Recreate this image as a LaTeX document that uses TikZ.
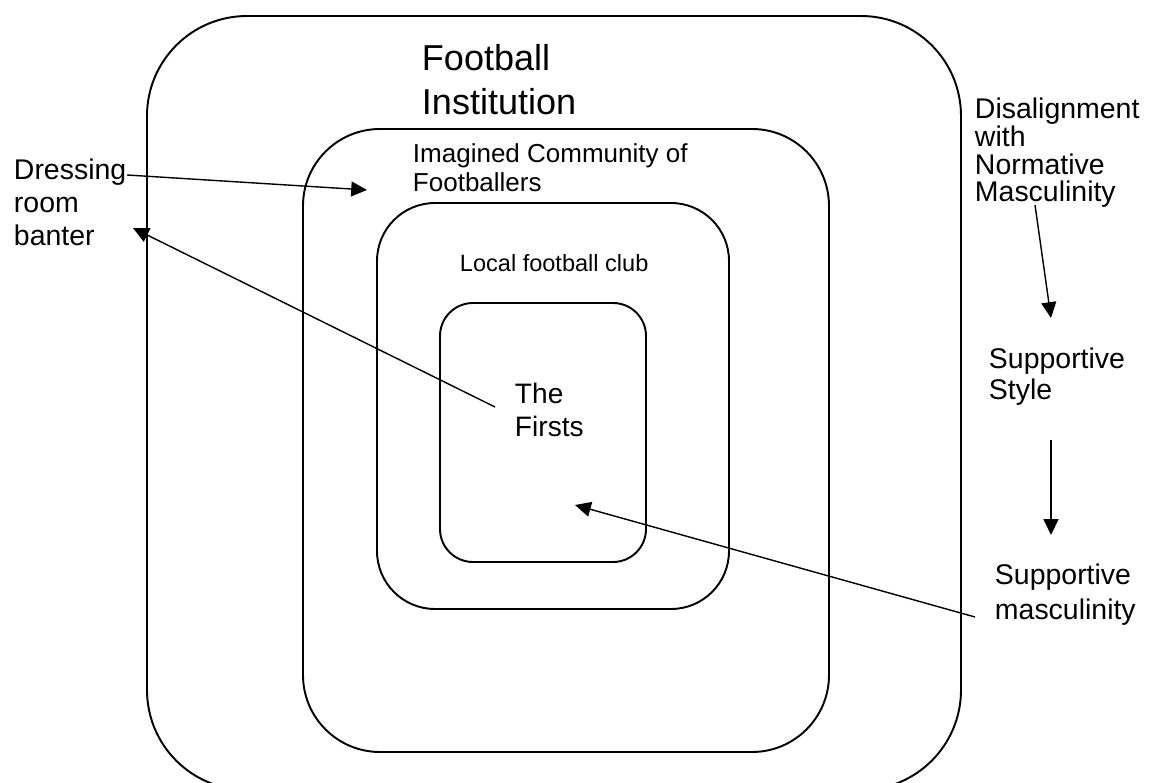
\documentclass[tikz,border=0pt]{standalone}
\usepackage{fontspec}
\setmainfont{Liberation Sans}
\usetikzlibrary{arrows.meta}

\begin{document}
\begin{tikzpicture}[
    x=0.02cm, y=-0.02cm,
    >={Triangle[length=9pt,width=8.5pt]},
    line width=1.1pt,
    lbl/.style={anchor=north west, inner sep=0pt, align=left},
    link/.style={->, line width=0.8pt}
  ]
  % canvas
  \clip (0,0) rectangle (1149,783);

  % nested boxes
  \foreach \l/\t/\r/\b/\rad in {147/16/961/790/2cm, 303/129/829/752/1.54cm,
      377/203/729/609/1.16cm, 440/303/646/562/0.66cm}
    \draw[rounded corners=\rad] (\l,\t) rectangle (\r,\b);

  % box titles
  \node[lbl, font=\fontsize{20.5}{25.5}\selectfont] (institution) at (421,43) {Football\\Institution};
  \node[lbl, font=\fontsize{14.8}{16.4}\selectfont] (community) at (412,143) {Imagined Community of\\Footballers};
  \node[lbl, font=\fontsize{13.4}{16}\selectfont] (club) at (459,253) {Local football club};
  \node[lbl, font=\fontsize{16}{18.7}\selectfont] (firsts) at (514,382) {The\\Firsts};

  % side labels
  \node[lbl, font=\fontsize{16.2}{18.7}\selectfont] (banter) at (13,158) {Dressing\\room\\banter};
  \node[lbl, font=\fontsize{16.2}{15.8}\selectfont] (disalign) at (974,97) {Disalignment\\with\\Normative\\Masculinity};
  \node[lbl, font=\fontsize{16.2}{17.6}\selectfont] (style) at (988,347) {Supportive\\Style};
  \node[lbl, font=\fontsize{16.2}{19.8}\selectfont] (suppmasc) at (994,563) {Supportive\\masculinity};

  % arrow ends
  \coordinate (banterTop) at (127,175);
  \coordinate (communityPt) at (367,190);
  \coordinate (firstsTop) at (495,407);
  \coordinate (banterPt) at (133,228);
  \coordinate (disalignEnd) at (1035,205);
  \coordinate (styleTop) at (1051,318);
  \coordinate (styleEnd) at (1051,440);
  \coordinate (suppTop) at (1051,535);
  \coordinate (suppEnd) at (975,617);
  \coordinate (firstsPt) at (575,505);

  % arrows
  \draw[link] (banterTop) -- (communityPt);
  \draw[link] (firstsTop) -- (banterPt);
  \draw[link] (disalignEnd) -- (styleTop);
  \draw[link] (styleEnd) -- (suppTop);
  \draw[link] (suppEnd) -- (firstsPt);
\end{tikzpicture}
\end{document}
